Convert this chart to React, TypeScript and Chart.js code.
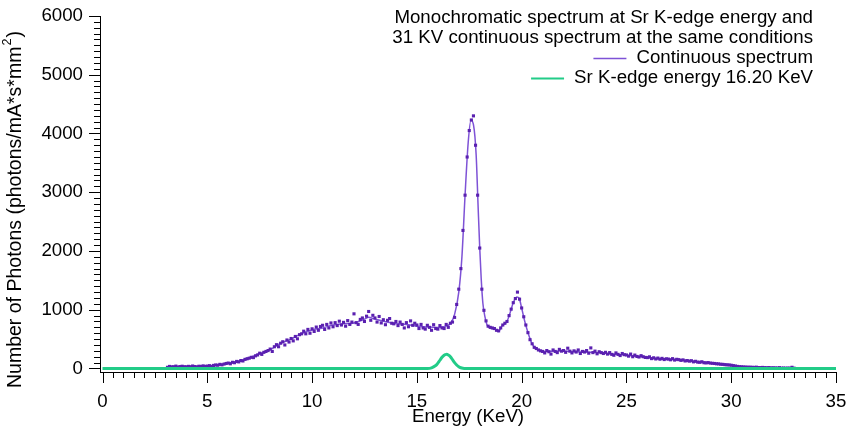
import React, { useEffect, useRef } from "react";
import { Chart, registerables } from "chart.js";

Chart.register(...registerables);

// ---- Data ----
// Smoothed continuous spectrum (energy KeV, photons)
const lineEnergy = [
  3.1, 3.5, 4, 4.5, 5, 5.5, 6, 6.5, 7, 7.5, 8, 8.5, 9, 9.5, 10, 10.5, 11, 11.5, 12, 12.5, 12.7, 13, 13.5, 14,
  14.5, 15, 15.5, 16, 16.3, 16.6, 16.8, 17.0, 17.15, 17.3, 17.45, 17.58, 17.7, 17.83, 17.92, 18.0, 18.07, 18.15,
  18.25, 18.35, 18.5, 18.75, 18.9, 19.05, 19.3, 19.45, 19.6, 19.77, 19.88, 20.0, 20.15, 20.33, 20.5, 20.65, 20.8,
  21.1, 21.8, 22.4, 23.0, 23.7, 24.3, 24.9, 25.6, 26.2, 26.9, 27.5, 28.4, 29.2, 30.0, 30.5, 31.2, 32, 32.8, 33.2,
];
const lineCounts = [
  28, 30, 32, 35, 42, 60, 90, 125, 185, 255, 320, 430, 500, 595, 655, 690, 740, 760, 775, 840, 870, 840, 795, 765,
  750, 718, 705, 698, 712, 765, 920, 1300, 1900, 2950, 3850, 4227, 4150, 3630, 2780, 2050, 1530, 1110,
  880, 740, 690, 665, 630, 720, 800, 950, 1120, 1215, 1195, 1030, 800, 580, 420, 350, 318,
  290, 298, 288, 278, 268, 245, 230, 202, 175, 158, 150, 115, 88, 58, 32, 20, 13, 7, 5,
];

// Measured points of the continuous spectrum, one every 0.1 KeV from 3.1 KeV
const dotStart = 3.1;
const dotStep = 0.1;
const dotCounts = [
  // 3.1 - 3.9
  20, 35, 28, 30, 40, 25, 32, 38, 30,
  // 4.0 - 4.9
  28, 36, 30, 42, 33, 27, 38, 35, 44, 36,
  // 5.0 - 5.9
  40, 48, 35, 52, 60, 55, 70, 62, 75, 85,
  // 6.0 - 6.9
  92, 80, 105, 98, 120, 112, 135, 128, 155, 165,
  // 7.0 - 7.9
  175, 190, 185, 215, 230, 260, 240, 275, 290, 305,
  // 8.0 - 8.9
  330, 290, 370, 405, 370, 430, 455, 400, 485, 450,
  // 9.0 - 9.9
  510, 470, 545, 505, 575, 590, 635, 590, 665, 600,
  // 10.0 - 10.9
  675, 630, 705, 650, 715, 735, 665, 750, 690, 775,
  // 11.0 - 11.9
  710, 780, 730, 805, 740, 785, 720, 815, 750, 790,
  // 12.0 - 12.9
  930, 780, 750, 835, 860, 800, 890, 970, 820, 905,
  // 13.0 - 13.9
  860, 790, 885, 775, 830, 745, 820, 850, 770, 760,
  // 14.0 - 14.9
  800, 730, 790, 750, 690, 780, 710, 810, 735, 770,
  // 15.0 - 15.9
  740, 680, 750, 690, 670, 735, 700, 650, 745, 680,
  // 16.0 - 16.9
  670, 730, 690, 680, 750, 700, 770, 790, 870, 1090,
  // 17.0 - 17.9
  1350, 1700, 2350, 2950, 3600, 4050, 4230, 4300, 3800, 2950,
  // 18.0 - 18.9
  2050, 1350, 990, 810, 720, 700, 690, 680, 650, 640,
  // 19.0 - 19.9
  690, 740, 770, 800, 900, 1010, 1120, 1190, 1300, 1180,
  // 20.0 - 20.9
  1030, 880, 740, 610, 490, 420, 360, 340, 315, 300,
  // 21.0 - 21.9
  290, 265, 305, 285, 245, 315, 290, 270, 325, 295,
  // 22.0 - 22.9
  305, 275, 345, 295, 265, 300, 280, 315, 255, 290,
  // 23.0 - 23.9
  280, 305, 260, 350, 270, 295, 250, 285, 270, 255,
  // 24.0 - 24.9
  275, 245, 270, 240, 225, 265, 240, 220, 255, 235,
  // 25.0 - 25.9
  230, 210, 245, 200, 228, 205, 195, 218, 200, 188,
  // 26.0 - 26.9
  185, 198, 168, 182, 162, 177, 158, 172, 152, 165,
  // 27.0 - 27.9
  160, 148, 167, 143, 156, 150, 138, 146, 128, 135,
  // 28.0 - 28.9
  125, 132, 113, 122, 108, 105, 114, 98, 95, 100,
  // 29.0 - 29.9
  92, 88, 85, 80, 78, 72, 70, 65, 62, 60,
  // 30.0 - 30.9
  55, 48, 42, 35, 30, 28, 26, 24, 22, 22,
  // 31.0 - 31.9
  20, 18, 22, 16, 15, 18, 14, 12, 15, 10,
  // 32.0 - 32.9
  12, 10, 8, 14, 6, 8, 5, 7, 6, 20,
  // 33.0
  5,
];

// Monochromatic spectrum at Sr K-edge
const monoEnergy = [0, 15.5, 15.7, 15.9, 16.0, 16.1, 16.2, 16.3, 16.4, 16.5, 16.6, 16.7, 16.8, 16.9, 17.0, 17.1, 17.2, 17.3, 35];
const monoCounts = [0, 0, 10, 50, 90, 140, 190, 225, 240, 230, 200, 150, 100, 60, 30, 12, 4, 0, 0];

// Axes
const xTickValues = [0, 5, 10, 15, 20, 25, 30, 35];
const yTickValues = [0, 1000, 2000, 3000, 4000, 5000, 6000];
const xMinorStep = 0.5;
const yMinorStep = 100;

const xTitle = "Energy (KeV)";
const yTitleMain = "Number of Photons (photons/mA*s*mm";
const yTitleSup = "2";
const yTitleEnd = ")";
const legendTitle = ["Monochromatic spectrum at Sr K-edge energy and", "31 KV continuous spectrum at the same conditions"];
const seriesNames = ["Continuous spectrum", "Sr K-edge energy 16.20 KeV"];

const PURPLE_LINE = "#7e52d6";
const PURPLE_DOT = "#5a20b0";
const GREEN = "#22cc88";
const FONT_FAMILY = "'Liberation Sans', Arial, Helvetica, sans-serif";
const FONT_SIZE = 18.7;
const FONT = { family: FONT_FAMILY, size: FONT_SIZE };

const ticksAndLegend = {
  id: "ticksAndLegend",
  afterDraw(chart: any) {
    const { ctx, chartArea, scales } = chart;
    const x = scales.x;
    const y = scales.y;
    ctx.save();
    ctx.strokeStyle = "#000";
    ctx.lineWidth = 1;
    ctx.beginPath();
    const xMax = xTickValues[xTickValues.length - 1];
    const nx = Math.round(xMax / xMinorStep);
    for (let i = 0; i <= nx; i++) {
      const v = i * xMinorStep;
      const major = xTickValues.some((t) => Math.abs(t - v) < 1e-6);
      const px = Math.round(x.getPixelForValue(v)) + 0.5;
      ctx.moveTo(px, chartArea.bottom);
      ctx.lineTo(px, chartArea.bottom + (major ? 11 : 6));
    }
    const yMax = yTickValues[yTickValues.length - 1];
    const ny = Math.round(yMax / yMinorStep);
    for (let i = 0; i <= ny; i++) {
      const v = i * yMinorStep;
      const major = yTickValues.some((t) => Math.abs(t - v) < 1e-6);
      const py = Math.round(y.getPixelForValue(v)) + 0.5;
      ctx.moveTo(chartArea.left, py);
      ctx.lineTo(chartArea.left - (major ? 11 : 6), py);
    }
    ctx.stroke();

    // y axis title with superscript
    const tSize = 19.5;
    ctx.save();
    ctx.translate(16, 388);
    ctx.rotate(-Math.PI / 2);
    ctx.fillStyle = "#000";
    ctx.textAlign = "left";
    ctx.textBaseline = "middle";
    ctx.font = `${tSize}px ${FONT_FAMILY}`;
    ctx.fillText(yTitleMain, 0, 0);
    let w = ctx.measureText(yTitleMain).width;
    ctx.font = `${tSize * 0.65}px ${FONT_FAMILY}`;
    ctx.fillText(yTitleSup, w + 1, -8);
    w += ctx.measureText(yTitleSup).width + 2;
    ctx.font = `${tSize}px ${FONT_FAMILY}`;
    ctx.fillText(yTitleEnd, w, 0);
    ctx.restore();

    // legend
    ctx.font = `${FONT_SIZE}px ${FONT_FAMILY}`;
    ctx.fillStyle = "#000";
    ctx.textAlign = "right";
    ctx.textBaseline = "middle";
    const rightX = 813;
    ctx.fillText(legendTitle[0], rightX, 18);
    ctx.fillText(legendTitle[1], rightX, 38);
    const rows = [
      { name: seriesNames[0], color: PURPLE_LINE, y: 58, w: 1.5 },
      { name: seriesNames[1], color: GREEN, y: 78, w: 2 },
    ];
    rows.forEach((r) => {
      ctx.fillText(r.name, rightX, r.y);
      const tw = ctx.measureText(r.name).width;
      const lx1 = rightX - tw - 10;
      ctx.beginPath();
      ctx.strokeStyle = r.color;
      ctx.lineWidth = r.w;
      ctx.moveTo(lx1 - 33, r.y + 0.5);
      ctx.lineTo(lx1, r.y + 0.5);
      ctx.stroke();
    });
    ctx.restore();
  },
};

export default function App() {
  const ref = useRef<HTMLCanvasElement | null>(null);
  useEffect(() => {
    if (!ref.current) return;
    const dots = dotCounts.map((v, i) => ({ x: Math.round((dotStart + i * dotStep) * 10) / 10, y: v }));
    const line = lineEnergy.map((e, i) => ({ x: e, y: lineCounts[i] }));
    const mono = monoEnergy.map((e, i) => ({ x: e, y: monoCounts[i] }));
    const chart = new Chart(ref.current, {
      type: "scatter",
      data: {
        datasets: [
          {
            label: seriesNames[1],
            data: mono,
            showLine: true,
            borderColor: GREEN,
            backgroundColor: GREEN,
            borderWidth: 3,
            pointRadius: 0,
            tension: 0.3,
            order: 0,
          },
          {
            label: seriesNames[0] + " points",
            data: dots,
            showLine: false,
            pointStyle: "rect",
            pointRadius: 2.2,
            pointBorderWidth: 0,
            backgroundColor: PURPLE_DOT,
            borderColor: PURPLE_DOT,
            order: 1,
          },
          {
            label: seriesNames[0],
            data: line,
            showLine: true,
            borderColor: PURPLE_LINE,
            backgroundColor: PURPLE_LINE,
            borderWidth: 1.5,
            pointRadius: 0,
            cubicInterpolationMode: "monotone",
            order: 2,
          },
        ],
      },
      options: {
        responsive: false,
        animation: false,
        layout: { padding: { top: 16, right: 12, left: 0, bottom: 0 } },
        plugins: { legend: { display: false }, tooltip: { enabled: false } },
        scales: {
          x: {
            type: "linear",
            min: -0.12,
            max: 35,
            afterBuildTicks: (s: any) => {
              s.ticks = xTickValues.map((v) => ({ value: v }));
            },
            afterFit: (s: any) => {
              s.height = 58;
              s.paddingLeft = 0;
              s.paddingRight = 0;
            },
            grid: { drawOnChartArea: false, tickLength: 11, tickColor: "rgba(0,0,0,0)" },
            border: { color: "#000", width: 1 },
            ticks: {
              color: "#000",
              font: FONT,
              padding: 8,
              maxRotation: 0,
              autoSkip: false,
              callback: (v: any) => String(v),
            },
            title: { display: true, text: xTitle, color: "#000", font: FONT, padding: { top: 0, bottom: 2 } },
          },
          y: {
            type: "linear",
            min: -60,
            max: 6000,
            afterBuildTicks: (s: any) => {
              s.ticks = yTickValues.map((v) => ({ value: v }));
            },
            afterFit: (s: any) => {
              s.width = 100;
              s.paddingTop = 0;
              s.paddingBottom = 0;
            },
            grid: { drawOnChartArea: false, tickLength: 11, tickColor: "rgba(0,0,0,0)" },
            border: { color: "#000", width: 1 },
            ticks: { color: "#000", font: FONT, padding: 6, autoSkip: false, callback: (v: any) => String(v) },
            title: { display: false },
          },
        },
      },
      plugins: [ticksAndLegend],
    });
    return () => chart.destroy();
  }, []);
  return (
    <div style={{ position: "absolute", left: 0, top: 0, width: 848, height: 430, background: "#fff" }}>
      <canvas ref={ref} width={848} height={430} style={{ display: "block", width: 848, height: 430 }} />
    </div>
  );
}
